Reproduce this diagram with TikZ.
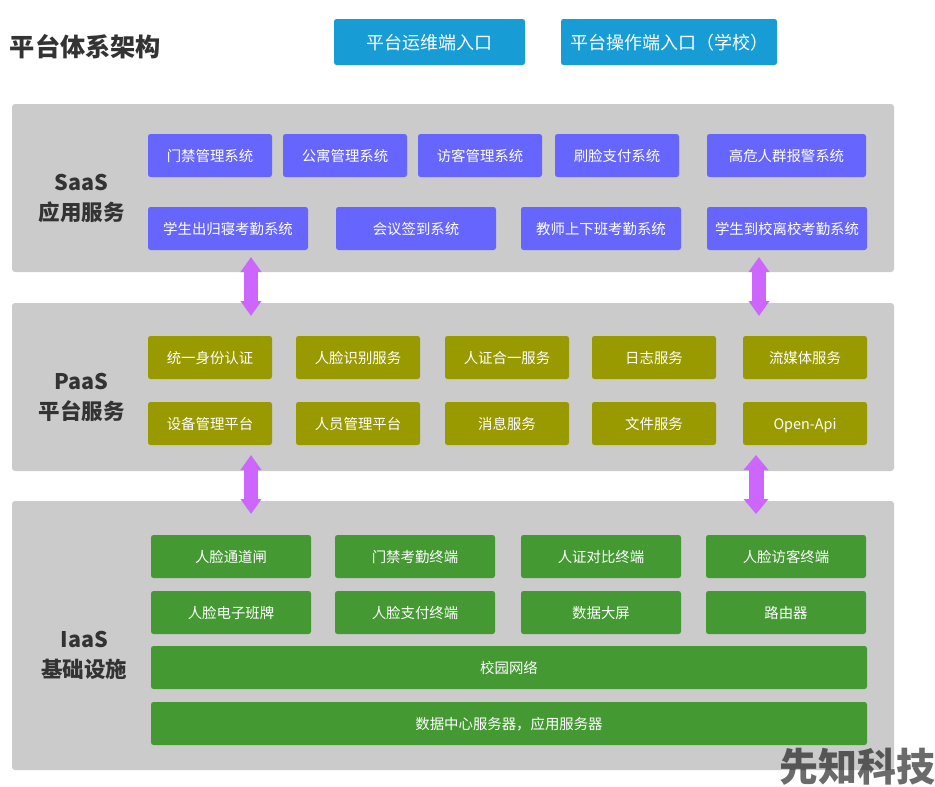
\documentclass[tikz,border=0pt]{standalone}
\usepackage{fontspec}
\setmainfont{Noto Sans CJK SC}
\usetikzlibrary{arrows.meta}
\definecolor{entrycol}{HTML}{189CD6}
\definecolor{layercol}{HTML}{CBCBCB}
\definecolor{saascol}{HTML}{6666FF}
\definecolor{paascol}{HTML}{999900}
\definecolor{iaascol}{HTML}{449933}
\definecolor{arrowcol}{HTML}{CC66FF}
\definecolor{inkcol}{HTML}{333333}
\tikzset{
  box/.style = {rectangle, rounded corners = 2.5, inner sep = 0, outer sep = 0, text = white, minimum height = 43, text height = 14, text depth = 2, font = \fontsize{14.4}{17}\selectfont},
  w124/.style = {box, minimum width = 124},
  w160/.style = {box, minimum width = 160},
  entry/.style = {box, fill = entrycol, minimum height = 46, text height = 17.6, text depth = 2.4, font = \fontsize{18}{22}\selectfont},
  saas/.style = {fill = saascol},
  paas/.style = {fill = paascol},
  iaas/.style = {fill = iaascol},
  layer/.style = {rectangle, rounded corners = 3, inner sep = 0, outer sep = 0, fill = layercol, minimum width = 882},
  layername/.style = {align = center, text = inkcol, font = \fontsize{21.5}{30}\selectfont\bfseries},
  link/.style = {arrowcol, line width = 13.3, {Triangle[width = 20, length = 15]}-{Triangle[width = 20, length = 15, sep = 1]}},
  linkwide/.style = {arrowcol, line width = 15, {Triangle[width = 24, length = 15]}-{Triangle[width = 24, length = 15, sep = 1]}}
}
\begin{document}
\begin{tikzpicture}[x = 1pt, y = -1pt]
\useasboundingbox (0,0) rectangle (935,787);
% heading
\node [text = inkcol, font = \fontsize{25.2}{30}\selectfont\bfseries] (title) at (85.5,47) {平台体系架构};
\node [entry, minimum width = 191] (ops) at (429.5,42) {平台运维端入口};
\node [entry, minimum width = 216] (school) at (669,42) {平台操作端入口（学校）};
% layers
\node [layer, minimum height = 168] (saaslayer) at (453,188) {};
\node [layer, minimum height = 168] (paaslayer) at (453,387) {};
\node [layer, minimum height = 269] (iaaslayer) at (453,635.5) {};
\node [layername] (saasname) at (81.5,198) {SaaS\\应用服务};
\node [layername] (paasname) at (81.5,397) {PaaS\\平台服务};
\node [layername] (iaasname) at (84.5,655) {IaaS\\基础设施};
% SaaS
\node [w124, saas] (door) at (210,155.5) {门禁管理系统};
\node [w124, saas] (dorm) at (345,155.5) {公寓管理系统};
\node [w124, saas] (visit) at (480,155.5) {访客管理系统};
\node [w124, saas] (pay) at (617,155.5) {刷脸支付系统};
\node [box, saas, minimum width = 159] (alarm) at (786.5,155.5) {高危人群报警系统};
\node [w160, saas] (dormcheck) at (228,228.5) {学生出归寝考勤系统};
\node [w160, saas] (meeting) at (416,228.5) {会议签到系统};
\node [w160, saas] (teacher) at (601,228.5) {教师上下班考勤系统};
\node [w160, saas] (schoolcheck) at (787,228.5) {学生到校离校考勤系统};
% PaaS
\node [w124, paas] (auth) at (210,357.5) {统一身份认证};
\node [w124, paas] (face) at (358,357.5) {人脸识别服务};
\node [w124, paas] (idcard) at (507,357.5) {人证合一服务};
\node [w124, paas] (logs) at (654,357.5) {日志服务};
\node [w124, paas] (media) at (805,357.5) {流媒体服务};
\node [w124, paas] (devices) at (210,423.5) {设备管理平台};
\node [w124, paas] (people) at (358,423.5) {人员管理平台};
\node [w124, paas] (message) at (507,423.5) {消息服务};
\node [w124, paas] (files) at (654,423.5) {文件服务};
\node [w124, paas] (openapi) at (805,423.5) {Open-Api};
% IaaS
\node [w160, iaas] (gate) at (231,556.5) {人脸通道闸};
\node [w160, iaas] (doorterm) at (415,556.5) {门禁考勤终端};
\node [w160, iaas] (idterm) at (601,556.5) {人证对比终端};
\node [w160, iaas] (visitterm) at (786,556.5) {人脸访客终端};
\node [w160, iaas] (board) at (231,612.5) {人脸电子班牌};
\node [w160, iaas] (payterm) at (415,612.5) {人脸支付终端};
\node [w160, iaas] (screen) at (601,612.5) {数据大屏};
\node [w160, iaas] (router) at (786,612.5) {路由器};
\node [box, iaas, minimum width = 716] (campus) at (509,667.5) {校园网络};
\node [box, iaas, minimum width = 716] (center) at (509,723.5) {数据中心服务器，应用服务器};
% arrows
\coordinate (linkAtop) at (251,257);
\coordinate (linkAbot) at (251,317);
\coordinate (linkBtop) at (759,257);
\coordinate (linkBbot) at (759,317);
\coordinate (linkCtop) at (251,455);
\coordinate (linkCbot) at (251,515);
\coordinate (linkDtop) at (756,455);
\coordinate (linkDbot) at (756,515);
\draw [link] (linkAtop) -- (linkAbot);
\draw [link] (linkBtop) -- (linkBbot);
\draw [link] (linkCtop) -- (linkCbot);
\draw [linkwide] (linkDtop) -- (linkDbot);
% mark
\node [text = black, opacity = 0.58, font = \fontsize{39}{44}\selectfont\bfseries] (mark) at (857.5,767) {先知科技};
\end{tikzpicture}
\end{document}
